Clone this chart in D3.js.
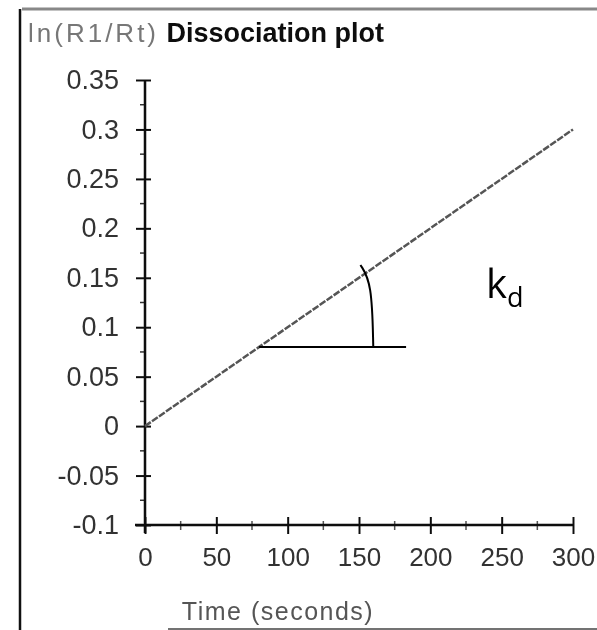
<!DOCTYPE html>
<html>
<head>
<meta charset="utf-8">
<script src="https://cdn.jsdelivr.net/npm/d3@7"></script>
<style>
  body { margin: 0; background: #fff; }
  svg { display: block; }
</style>
</head>
<body>
<div id="chart"></div>
<script>
// data
var time_values = [0, 300];
var ratio_values = [0, 0.3];
var y_ticks = [0.35, 0.3, 0.25, 0.2, 0.15, 0.1, 0.05, 0, -0.05, -0.1];
var y_tick_labels = ['0.35', '0.3', '0.25', '0.2', '0.15', '0.1', '0.05', '0', '-0.05', '-0.1'];
var x_ticks = [0, 50, 100, 150, 200, 250, 300];
var x_tick_labels = ['0', '50', '100', '150', '200', '250', '300'];
var y_minor = [0.325, 0.275, 0.225, 0.175, 0.125, 0.075, 0.025, -0.025, -0.075];
var x_minor = [25, 75, 125, 175, 225, 275];
// angle annotation (data units)
var angle_base = [[80, 0.08], [183, 0.08]];
var angle_arc = [[160, 0.08], [159, 0.145], [151, 0.163]];

var chart_width = 597;
var chart_height = 630;

var svg = d3.select('#chart')
    .append('svg')
    .attr('width', chart_width)
    .attr('height', chart_height)

svg.append('defs').append('filter')
    .attr('id', 'scan')
    .append('feGaussianBlur')
    .attr('stdDeviation', 0.6)

var x_scale = d3.scaleLinear()
    .domain([0, 300])
    .range([145, 573])

var y_scale = d3.scaleLinear()
    .domain([-0.1, 0.35])
    .range([525, 80])

// frame lines of the scan
svg.append('line')
    .attr('x1', 20).attr('x2', 20)
    .attr('y1', 9).attr('y2', 630)
    .attr('stroke', '#111')
    .attr('stroke-width', 2.5)
svg.append('line')
    .attr('x1', 22).attr('x2', 597)
    .attr('y1', 9).attr('y2', 9)
    .attr('stroke', '#888')
    .attr('stroke-width', 3)
svg.append('line')
    .attr('x1', 168).attr('x2', 597)
    .attr('y1', 629).attr('y2', 629)
    .attr('stroke', '#444')
    .attr('stroke-width', 1.5)

var g = svg.append('g').attr('filter', 'url(#scan)')

// title
var title = g.append('text')
    .attr('x', 28)
    .attr('y', 42)
    .attr('font-family', 'Liberation Sans, Arial, sans-serif')
    .attr('font-size', 26)
title.append('tspan')
    .text('ln(R1/Rt)')
    .attr('fill', '#777')
    .attr('letter-spacing', 3)
title.append('tspan')
    .text(' Dissociation plot')
    .attr('fill', '#111')
    .attr('font-weight', 'bold')
    .attr('font-size', 27)

// y axis
var y_axis = d3.axisLeft(y_scale)
    .tickValues(y_ticks)
    .tickSize(9)
    .tickPadding(17)
    .tickFormat(function (d, i) { return y_tick_labels[i]; })

var y_axis_g = g.append('g')
    .attr('transform', 'translate(' + x_scale(0) + ',0)')
    .call(y_axis)
y_axis_g.select('.domain').remove()
y_axis_g.selectAll('.tick line')
    .attr('x1', -9).attr('x2', 6)
    .attr('stroke', '#111')
    .attr('stroke-width', 2)
y_axis_g.selectAll('.tick text')
    .attr('font-family', 'Liberation Sans, Arial, sans-serif')
    .attr('font-size', 27)
    .attr('fill', '#333')

g.selectAll('.y-minor')
    .data(y_minor)
    .enter()
    .append('line')
    .attr('class', 'y-minor')
    .attr('x1', x_scale(0) - 5)
    .attr('x2', x_scale(0))
    .attr('y1', function (d) { return y_scale(d); })
    .attr('y2', function (d) { return y_scale(d); })
    .attr('stroke', '#333')
    .attr('stroke-width', 1.5)

g.append('line')
    .attr('x1', x_scale(0)).attr('x2', x_scale(0))
    .attr('y1', y_scale(0.35)).attr('y2', y_scale(-0.1) + 8)
    .attr('stroke', '#111')
    .attr('stroke-width', 2.5)

// x axis
var x_axis = d3.axisBottom(x_scale)
    .tickValues(x_ticks)
    .tickSize(9)
    .tickPadding(14)
    .tickFormat(function (d, i) { return x_tick_labels[i]; })

var x_axis_g = g.append('g')
    .attr('transform', 'translate(0,' + y_scale(-0.1) + ')')
    .call(x_axis)
x_axis_g.select('.domain').remove()
x_axis_g.selectAll('.tick line')
    .attr('y1', -8).attr('y2', 9)
    .attr('stroke', '#111')
    .attr('stroke-width', 2)
x_axis_g.selectAll('.tick text')
    .attr('font-family', 'Liberation Sans, Arial, sans-serif')
    .attr('font-size', 26)
    .attr('fill', '#333')

g.selectAll('.x-minor')
    .data(x_minor)
    .enter()
    .append('line')
    .attr('class', 'x-minor')
    .attr('x1', function (d) { return x_scale(d); })
    .attr('x2', function (d) { return x_scale(d); })
    .attr('y1', y_scale(-0.1) - 4)
    .attr('y2', y_scale(-0.1) + 5)
    .attr('stroke', '#555')
    .attr('stroke-width', 1.5)

g.append('line')
    .attr('x1', x_scale(0) - 10).attr('x2', x_scale(300))
    .attr('y1', y_scale(-0.1)).attr('y2', y_scale(-0.1))
    .attr('stroke', '#111')
    .attr('stroke-width', 2.5)

g.append('text')
    .text('Time (seconds)')
    .attr('x', 278)
    .attr('y', 620)
    .attr('text-anchor', 'middle')
    .attr('font-family', 'Liberation Sans, Arial, sans-serif')
    .attr('font-size', 25)
    .attr('letter-spacing', 1.5)
    .attr('fill', '#555')

// data line
var line = d3.line()
    .x(function (d, i) { return x_scale(d); })
    .y(function (d, i) { return y_scale(ratio_values[i]); })

g.append('path')
    .datum(time_values)
    .attr('d', line)
    .attr('fill', 'none')
    .attr('stroke', '#555')
    .attr('stroke-width', 2.5)
    .attr('stroke-dasharray', '7,1.5')

// angle annotation (crisp)
var ann_line = d3.line()
    .x(function (d) { return x_scale(d[0]); })
    .y(function (d) { return y_scale(d[1]); })

svg.append('path')
    .datum(angle_base)
    .attr('d', ann_line)
    .attr('fill', 'none')
    .attr('stroke', '#000')
    .attr('stroke-width', 2)

svg.append('path')
    .datum(angle_arc)
    .attr('d', ann_line.curve(d3.curveBasis))
    .attr('fill', 'none')
    .attr('stroke', '#000')
    .attr('stroke-width', 2)

var kd = svg.append('text')
    .attr('x', 486)
    .attr('y', 298)
    .attr('font-family', 'Open Sans, Liberation Sans, sans-serif')
    .attr('font-size', 40)
    .attr('fill', '#000')
kd.append('tspan').text('k')
kd.append('tspan')
    .text('d')
    .attr('font-size', 27)
    .attr('dy', 9)
</script>
</body>
</html>
